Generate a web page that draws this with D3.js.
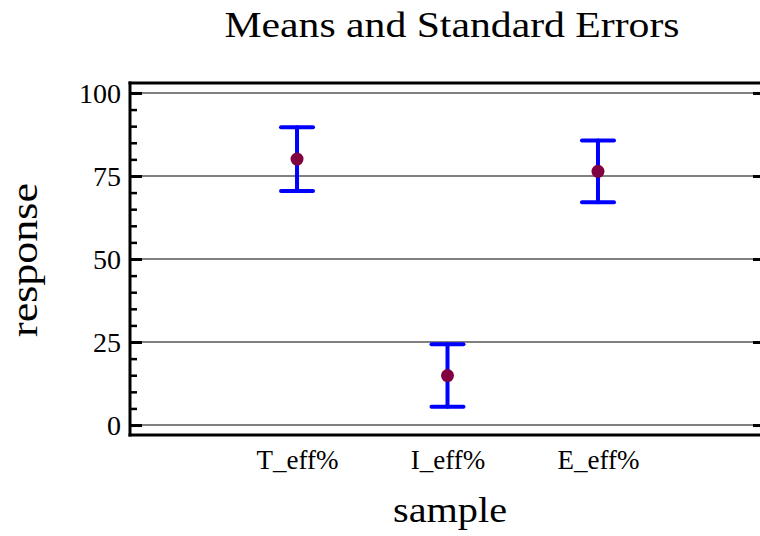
<!DOCTYPE html>
<html>
<head>
<meta charset="utf-8">
<script src="https://cdn.jsdelivr.net/npm/d3@7"></script>
<style>
  html, body { margin: 0; padding: 0; background: #fff; }
  svg { display: block; font-family: "Liberation Serif", "DejaVu Serif", serif; }
</style>
</head>
<body>
<svg id="chart" width="760" height="536"></svg>
<script>
// Sample means and their standard errors
const samples = ["T_eff%", "I_eff%", "E_eff%"];
const means = [80.1, 14.9, 76.4];
const stdErrors = [9.6, 9.4, 9.3];
const yMajorTicks = [0, 25, 50, 75, 100];
const yMinorTicks = [5, 10, 15, 20, 30, 35, 40, 45, 55, 60, 65, 70, 80, 85, 90, 95];

const svg = d3.select("#chart");
const plotLeft = 130, plotRight = 765, plotTop = 83, plotBottom = 435;

const x = d3.scalePoint().domain(samples).range([plotLeft, plotRight]).padding(1.11);
const y = d3.scaleLinear().domain([-3, 103]).range([plotBottom, plotTop]);

// Horizontal grid lines at the major ticks
svg.append("g").selectAll("line").data(yMajorTicks).join("line")
  .attr("x1", plotLeft).attr("x2", plotRight)
  .attr("y1", d => y(d)).attr("y2", d => y(d))
  .attr("stroke", "#808080").attr("stroke-width", 2);

// Left axis, ticks pointing inward
const yAxis = d3.axisRight(y).tickValues(yMajorTicks).tickSize(12).tickFormat("");
const gy = svg.append("g").attr("transform", `translate(${plotLeft},0)`).call(yAxis);
gy.select(".domain").remove();
gy.selectAll(".tick line").attr("stroke", "#000").attr("stroke-width", 3);

const yMinor = d3.axisRight(y).tickValues(yMinorTicks).tickSize(7).tickFormat("");
const gym = svg.append("g").attr("transform", `translate(${plotLeft},0)`).call(yMinor);
gym.select(".domain").remove();
gym.selectAll(".tick line").attr("stroke", "#000").attr("stroke-width", 2.5);

// Tick labels
svg.append("g").selectAll("text").data(yMajorTicks).join("text")
  .attr("x", plotLeft - 9).attr("y", d => y(d)).attr("dy", "0.35em")
  .attr("text-anchor", "end").attr("font-size", 28)
  .text(d => d);

// Right-side major ticks
const yRight = d3.axisLeft(y).tickValues(yMajorTicks).tickSize(12).tickFormat("");
const gyr = svg.append("g").attr("transform", `translate(${plotRight},0)`).call(yRight);
gyr.select(".domain").remove();
gyr.selectAll(".tick line").attr("stroke", "#000").attr("stroke-width", 3);

// Frame: left, top and bottom edges
svg.append("line").attr("x1", plotLeft).attr("x2", plotLeft).attr("y1", plotTop - 1.5).attr("y2", plotBottom + 1.5)
  .attr("stroke", "#000").attr("stroke-width", 3);
svg.append("line").attr("x1", plotLeft - 1.5).attr("x2", plotRight).attr("y1", plotTop).attr("y2", plotTop)
  .attr("stroke", "#000").attr("stroke-width", 3);
svg.append("line").attr("x1", plotLeft - 1.5).attr("x2", plotRight).attr("y1", plotBottom).attr("y2", plotBottom)
  .attr("stroke", "#000").attr("stroke-width", 3);

// Category labels
const xAxis = d3.axisBottom(x).tickSize(0).tickPadding(15);
const gx = svg.append("g").attr("transform", `translate(0,${plotBottom})`).call(xAxis);
gx.select(".domain").remove();
gx.selectAll("text").attr("font-size", 27).attr("font-family", "Liberation Serif").attr("fill", "#000");

// Error bars
const data = samples.map((s, i) => ({ s, m: means[i], e: stdErrors[i] }));
const capHalf = 16;
const bars = svg.append("g").attr("stroke", "#0000ff").attr("stroke-width", 4).attr("stroke-linecap", "round");
bars.selectAll(".stem").data(data).join("line").attr("class", "stem")
  .attr("x1", d => x(d.s)).attr("x2", d => x(d.s))
  .attr("y1", d => y(d.m + d.e)).attr("y2", d => y(d.m - d.e));
bars.selectAll(".capTop").data(data).join("line").attr("class", "capTop")
  .attr("x1", d => x(d.s) - capHalf).attr("x2", d => x(d.s) + capHalf)
  .attr("y1", d => y(d.m + d.e)).attr("y2", d => y(d.m + d.e));
bars.selectAll(".capBot").data(data).join("line").attr("class", "capBot")
  .attr("x1", d => x(d.s) - capHalf).attr("x2", d => x(d.s) + capHalf)
  .attr("y1", d => y(d.m - d.e)).attr("y2", d => y(d.m - d.e));

// Means
svg.append("g").selectAll("circle").data(data).join("circle")
  .attr("cx", d => x(d.s)).attr("cy", d => y(d.m)).attr("r", 6.5)
  .attr("fill", "#800040");

// Titles (slightly widened serif lettering)
svg.append("text").attr("x", 452).attr("y", 37).attr("text-anchor", "middle")
  .attr("font-size", 35).attr("textLength", 455).attr("lengthAdjust", "spacingAndGlyphs")
  .text("Means and Standard Errors");
svg.append("text").attr("x", 450).attr("y", 522).attr("text-anchor", "middle")
  .attr("font-size", 35).attr("textLength", 114).attr("lengthAdjust", "spacingAndGlyphs")
  .text("sample");
svg.append("text").attr("transform", "translate(37,260) rotate(-90)").attr("text-anchor", "middle")
  .attr("font-size", 37).attr("textLength", 154).attr("lengthAdjust", "spacingAndGlyphs")
  .text("response");
</script>
</body>
</html>
